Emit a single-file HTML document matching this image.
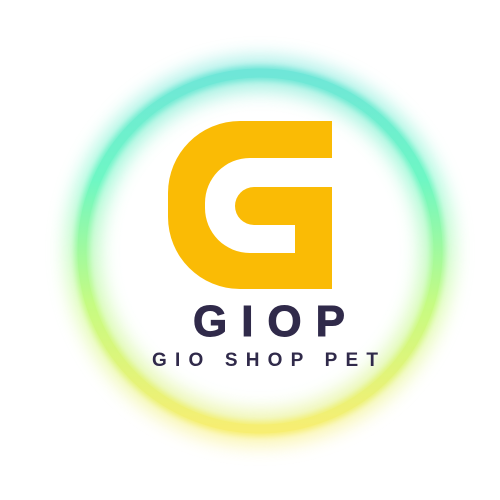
<!DOCTYPE html>
<html><head><meta charset="utf-8"><style>html,body{margin:0;padding:0;background:#fff;}svg{display:block}</style></head>
<body>
<svg width="500" height="500" viewBox="0 0 500 500">
<defs>
<linearGradient id="rg" x1="0" y1="0" x2="0" y2="1">
<stop offset="0" stop-color="#6fe6d8"/>
<stop offset="0.3" stop-color="#6ef7c4"/>
<stop offset="0.65" stop-color="#c6fb82"/>
<stop offset="1" stop-color="#f7ee72"/>
</linearGradient>
<radialGradient id="inner" cx="0.5" cy="0.5" r="0.5">
<stop offset="0.75" stop-color="#fff" stop-opacity="0"/>
<stop offset="1" stop-color="#d8fbe8" stop-opacity="0.6"/>
</radialGradient>
<filter id="blur" x="-30%" y="-30%" width="160%" height="160%"><feGaussianBlur stdDeviation="9"/></filter>
<filter id="blur2" x="-30%" y="-30%" width="160%" height="160%"><feGaussianBlur stdDeviation="3"/></filter>
</defs>
<g>
<circle cx="260" cy="251" r="178" fill="url(#inner)"/>
<circle cx="260" cy="251" r="178" fill="none" stroke="url(#rg)" stroke-width="34" opacity="0.55" filter="url(#blur)"/>
<circle cx="260" cy="251" r="178" fill="none" stroke="url(#rg)" stroke-width="14" filter="url(#blur2)"/>
<circle cx="260" cy="251" r="178" fill="none" stroke="url(#rg)" stroke-width="9"/>
</g>
<g>
<path d="M332,121 L240,121 A72,72 0 0 0 168,193 L168,217 A72,72 0 0 0 240,289 L332,289 Z" fill="#fabb05"/>
<path d="M332,158 H250 A45,45 0 0 0 205,203 V208 A45,45 0 0 0 250,253 H295 V187 H332 Z" fill="#fff"/>
<path d="M332,187 H254 A19,19 0 0 0 254,225 H332 Z" fill="#fabb05"/>
</g>
<text x="193" y="336" textLength="152" lengthAdjust="spacing" font-family="Liberation Sans, sans-serif" font-weight="bold" font-size="44" fill="#302a4a" stroke="#302a4a" stroke-width="1">GIOP</text>
<text x="152" y="366" textLength="226" lengthAdjust="spacing" font-family="Liberation Sans, sans-serif" font-weight="bold" font-size="19" fill="#302a4a">GIO SHOP PET</text>
</svg>
</body></html>
